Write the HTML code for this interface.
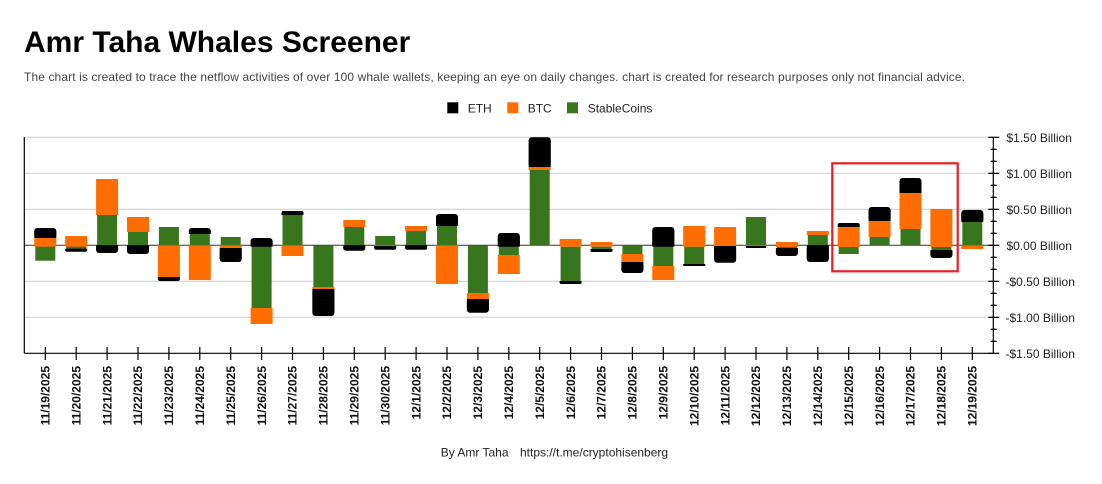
<!DOCTYPE html>
<html><head><meta charset="utf-8"><style>
html,body{margin:0;padding:0;background:#fff;}
svg{display:block;font-family:"Liberation Sans",Arial,sans-serif;}
</style></head><body>
<svg width="1102" height="484" viewBox="0 0 1102 484" xmlns="http://www.w3.org/2000/svg">
<rect width="1102" height="484" fill="#fff"/>
<text x="24" y="52" font-size="30" font-weight="bold" fill="#000">Amr Taha Whales Screener</text>
<text x="24" y="81" font-size="12" fill="#444" textLength="941" lengthAdjust="spacing">The chart is created to trace the netflow activities of over 100 whale wallets, keeping an eye on daily changes.  chart is created for research purposes only not financial advice.</text>
<!-- legend -->
<rect x="447.3" y="102.3" width="11" height="11" fill="#000"/>
<text x="467.7" y="112.7" font-size="12" fill="#222">ETH</text>
<rect x="507.3" y="102.3" width="11" height="11" fill="#ff6d00"/>
<text x="527.7" y="112.7" font-size="12" fill="#222">BTC</text>
<rect x="567" y="102.3" width="11" height="11" fill="#38761d"/>
<text x="587.7" y="112.7" font-size="12" fill="#222">StableCoins</text>
<!-- gridlines -->
<g stroke="#cccccc" stroke-width="1">
<line x1="24.3" x2="993.3" y1="137.3" y2="137.3"/>
<line x1="24.3" x2="993.3" y1="173.3" y2="173.3"/>
<line x1="24.3" x2="993.3" y1="209.3" y2="209.3"/>
<line x1="24.3" x2="993.3" y1="281.3" y2="281.3"/>
<line x1="24.3" x2="993.3" y1="317.3" y2="317.3"/>
</g>
<line x1="24.3" x2="993.3" y1="245.3" y2="245.3" stroke="#333" stroke-width="1"/>
<!-- green -->
<g fill="#38761d">
<rect x="35.3" y="245.3" width="20" height="15.4"/>
<rect x="66.2" y="245.3" width="20" height="3.4"/>
<rect x="97.1" y="215" width="20" height="30.3"/>
<rect x="128" y="232" width="20" height="13.3"/>
<rect x="158.9" y="227" width="20" height="18.3"/>
<rect x="189.8" y="234" width="20" height="11.3"/>
<rect x="220.7" y="237" width="20" height="8.3"/>
<rect x="251.6" y="246.7" width="20" height="61.3"/>
<rect x="282.5" y="215" width="20" height="30.3"/>
<rect x="313.4" y="245.3" width="20" height="41.7"/>
<rect x="344.3" y="227" width="20" height="18.3"/>
<rect x="375.2" y="236" width="20" height="9.3"/>
<rect x="406.1" y="231" width="20" height="14.3"/>
<rect x="437" y="226" width="20" height="19.3"/>
<rect x="467.9" y="245.3" width="20" height="47.7"/>
<rect x="498.8" y="246.7" width="20" height="8.3"/>
<rect x="529.7" y="170" width="20" height="75.3"/>
<rect x="560.6" y="246.7" width="20" height="34.3"/>
<rect x="591.5" y="246.7" width="20" height="2.3"/>
<rect x="622.4" y="245.3" width="20" height="8.7"/>
<rect x="653.3" y="246.7" width="20" height="19.3"/>
<rect x="684.2" y="246.7" width="20" height="17.3"/>
<rect x="746" y="217" width="20" height="28.3"/>
<rect x="776.9" y="247" width="20" height="1"/>
<rect x="807.8" y="235" width="20" height="10.3"/>
<rect x="838.7" y="247" width="20" height="7"/>
<rect x="869.6" y="237" width="20" height="8.3"/>
<rect x="900.5" y="229" width="20" height="16.3"/>
<rect x="931.4" y="247" width="20" height="3"/>
<rect x="962.3" y="222" width="20" height="23.3"/>
</g>
<!-- orange -->
<g fill="#ff6d00">
<rect x="34.3" y="238" width="22" height="8.7"/>
<rect x="65.2" y="236" width="22" height="10.7"/>
<rect x="96.1" y="179" width="22" height="36"/>
<rect x="127" y="217" width="22" height="15"/>
<rect x="157.9" y="245.3" width="22" height="31.7"/>
<rect x="188.8" y="245.3" width="22" height="34.7"/>
<rect x="219.7" y="245.3" width="22" height="2.7"/>
<rect x="250.6" y="308" width="22" height="16"/>
<rect x="281.5" y="245.3" width="22" height="10.7"/>
<rect x="312.4" y="287" width="22" height="2"/>
<rect x="343.3" y="220" width="22" height="7"/>
<rect x="374.2" y="245.3" width="22" height="1"/>
<rect x="405.1" y="226" width="22" height="5"/>
<rect x="436" y="245.3" width="22" height="38.7"/>
<rect x="466.9" y="293" width="22" height="6"/>
<rect x="497.8" y="255" width="22" height="19"/>
<rect x="528.7" y="167" width="22" height="3"/>
<rect x="559.6" y="239" width="22" height="7.7"/>
<rect x="590.5" y="242" width="22" height="4.7"/>
<rect x="621.4" y="254" width="22" height="8"/>
<rect x="652.3" y="266" width="22" height="14"/>
<rect x="683.2" y="226" width="22" height="20.7"/>
<rect x="714.1" y="227" width="22" height="19"/>
<rect x="745" y="245.3" width="22" height="1"/>
<rect x="775.9" y="242" width="22" height="5"/>
<rect x="806.8" y="231" width="22" height="4"/>
<rect x="837.7" y="227" width="22" height="20"/>
<rect x="868.6" y="221" width="22" height="16"/>
<rect x="899.5" y="193" width="22" height="36"/>
<rect x="930.4" y="209" width="22" height="38"/>
<rect x="961.3" y="245.3" width="22" height="3.7"/>
</g>
<!-- black (ETH) -->
<g fill="#000">
<rect x="34.3" y="228" width="22" height="10" rx="3"/><rect x="34.3" y="231" width="22" height="7"/>
<rect x="65.2" y="248.7" width="22" height="3" rx="1.5"/><rect x="65.2" y="248.7" width="22" height="1.5"/>
<rect x="96.1" y="245.3" width="22" height="7.7" rx="3"/><rect x="96.1" y="245.3" width="22" height="4.7"/>
<rect x="127" y="245.3" width="22" height="8.7" rx="3"/><rect x="127" y="245.3" width="22" height="5.7"/>
<rect x="157.9" y="277" width="22" height="4" rx="2"/><rect x="157.9" y="277" width="22" height="2"/>
<rect x="188.8" y="228" width="22" height="6" rx="3"/><rect x="188.8" y="231" width="22" height="3"/>
<rect x="219.7" y="248" width="22" height="14" rx="3"/><rect x="219.7" y="248" width="22" height="11"/>
<rect x="250.6" y="238" width="22" height="8.7" rx="3"/><rect x="250.6" y="241" width="22" height="5.7"/>
<rect x="281.5" y="211" width="22" height="4" rx="2"/><rect x="281.5" y="213" width="22" height="2"/>
<rect x="312.4" y="289" width="22" height="27" rx="3"/><rect x="312.4" y="289" width="22" height="24"/>
<rect x="343.3" y="245.3" width="22" height="5.4" rx="2.5"/><rect x="343.3" y="245.3" width="22" height="2.7"/>
<rect x="374.2" y="246" width="22" height="3.7" rx="1.8"/><rect x="374.2" y="246" width="22" height="1.8"/>
<rect x="405.1" y="245.3" width="22" height="4.4" rx="2"/><rect x="405.1" y="245.3" width="22" height="2.2"/>
<rect x="436" y="214" width="22" height="12" rx="3"/><rect x="436" y="217" width="22" height="9"/>
<rect x="466.9" y="299" width="22" height="13.7" rx="3"/><rect x="466.9" y="299" width="22" height="10.7"/>
<rect x="497.8" y="233" width="22" height="13.7" rx="3"/><rect x="497.8" y="236" width="22" height="10.7"/>
<rect x="528.7" y="137.3" width="22" height="29.7" rx="3"/><rect x="528.7" y="140.3" width="22" height="26.7"/>
<rect x="559.6" y="281" width="22" height="3" rx="1.5"/><rect x="559.6" y="281" width="22" height="1.5"/>
<rect x="590.5" y="249" width="22" height="3" rx="1.5"/><rect x="590.5" y="249" width="22" height="1.5"/>
<rect x="621.4" y="262" width="22" height="11" rx="3"/><rect x="621.4" y="262" width="22" height="8"/>
<rect x="652.3" y="227" width="22" height="19.7" rx="3"/><rect x="652.3" y="230" width="22" height="16.7"/>
<rect x="683.2" y="264" width="22" height="2"/>
<rect x="714.1" y="246" width="22" height="16.7" rx="3"/><rect x="714.1" y="246" width="22" height="13.7"/>
<rect x="746" y="246" width="20" height="2"/>
<rect x="775.9" y="248" width="22" height="8" rx="3"/><rect x="775.9" y="248" width="22" height="5"/>
<rect x="806.8" y="245.3" width="22" height="16.7" rx="3"/><rect x="806.8" y="245.3" width="22" height="13.7"/>
<rect x="837.7" y="223" width="22" height="4" rx="2"/><rect x="837.7" y="225" width="22" height="2"/>
<rect x="868.6" y="207" width="22" height="14" rx="3"/><rect x="868.6" y="210" width="22" height="11"/>
<rect x="899.5" y="178" width="22" height="15" rx="3"/><rect x="899.5" y="181" width="22" height="12"/>
<rect x="930.4" y="250" width="22" height="8" rx="3"/><rect x="930.4" y="250" width="22" height="5"/>
<rect x="961.3" y="210" width="22" height="12" rx="3"/><rect x="961.3" y="213" width="22" height="9"/>
</g>
<!-- axes -->
<g stroke="#000" stroke-width="1.2">
<line x1="24.3" x2="24.3" y1="137" y2="353.3"/>
<line x1="993.3" x2="993.3" y1="137" y2="353.3"/>
<line x1="24.3" x2="993.3" y1="353.3" y2="353.3"/>
</g>
<!-- right axis ticks -->
<g stroke="#000" stroke-width="1.2">
<line x1="988.3" x2="999.3" y1="137.3" y2="137.3"/>
<line x1="988.3" x2="999.3" y1="173.3" y2="173.3"/>
<line x1="988.3" x2="999.3" y1="209.3" y2="209.3"/>
<line x1="988.3" x2="999.3" y1="245.3" y2="245.3"/>
<line x1="988.3" x2="999.3" y1="281.3" y2="281.3"/>
<line x1="988.3" x2="999.3" y1="317.3" y2="317.3"/>
<line x1="988.3" x2="999.3" y1="353.3" y2="353.3"/>
<line x1="990.7" x2="996.7" y1="149.3" y2="149.3"/>
<line x1="990.7" x2="996.7" y1="161.3" y2="161.3"/>
<line x1="990.7" x2="996.7" y1="185.3" y2="185.3"/>
<line x1="990.7" x2="996.7" y1="197.3" y2="197.3"/>
<line x1="990.7" x2="996.7" y1="221.3" y2="221.3"/>
<line x1="990.7" x2="996.7" y1="233.3" y2="233.3"/>
<line x1="990.7" x2="996.7" y1="257.3" y2="257.3"/>
<line x1="990.7" x2="996.7" y1="269.3" y2="269.3"/>
<line x1="990.7" x2="996.7" y1="293.3" y2="293.3"/>
<line x1="990.7" x2="996.7" y1="305.3" y2="305.3"/>
<line x1="990.7" x2="996.7" y1="329.3" y2="329.3"/>
<line x1="990.7" x2="996.7" y1="341.3" y2="341.3"/>
</g>
<!-- x ticks -->
<g stroke="#000" stroke-width="1.2">
<line x1="45.3" x2="45.3" y1="347" y2="360"/>
<line x1="76.2" x2="76.2" y1="347" y2="360"/>
<line x1="107.1" x2="107.1" y1="347" y2="360"/>
<line x1="138" x2="138" y1="347" y2="360"/>
<line x1="168.9" x2="168.9" y1="347" y2="360"/>
<line x1="199.8" x2="199.8" y1="347" y2="360"/>
<line x1="230.7" x2="230.7" y1="347" y2="360"/>
<line x1="261.6" x2="261.6" y1="347" y2="360"/>
<line x1="292.5" x2="292.5" y1="347" y2="360"/>
<line x1="323.4" x2="323.4" y1="347" y2="360"/>
<line x1="354.3" x2="354.3" y1="347" y2="360"/>
<line x1="385.2" x2="385.2" y1="347" y2="360"/>
<line x1="416.1" x2="416.1" y1="347" y2="360"/>
<line x1="447" x2="447" y1="347" y2="360"/>
<line x1="477.9" x2="477.9" y1="347" y2="360"/>
<line x1="508.8" x2="508.8" y1="347" y2="360"/>
<line x1="539.7" x2="539.7" y1="347" y2="360"/>
<line x1="570.6" x2="570.6" y1="347" y2="360"/>
<line x1="601.5" x2="601.5" y1="347" y2="360"/>
<line x1="632.4" x2="632.4" y1="347" y2="360"/>
<line x1="663.3" x2="663.3" y1="347" y2="360"/>
<line x1="694.2" x2="694.2" y1="347" y2="360"/>
<line x1="725.1" x2="725.1" y1="347" y2="360"/>
<line x1="756" x2="756" y1="347" y2="360"/>
<line x1="786.9" x2="786.9" y1="347" y2="360"/>
<line x1="817.8" x2="817.8" y1="347" y2="360"/>
<line x1="848.7" x2="848.7" y1="347" y2="360"/>
<line x1="879.6" x2="879.6" y1="347" y2="360"/>
<line x1="910.5" x2="910.5" y1="347" y2="360"/>
<line x1="941.4" x2="941.4" y1="347" y2="360"/>
<line x1="972.3" x2="972.3" y1="347" y2="360"/>
</g>
<!-- right axis labels -->
<g font-size="12" fill="#222">
<text x="1006.5" y="141.8">$1.50 Billion</text>
<text x="1006.5" y="177.8">$1.00 Billion</text>
<text x="1006.5" y="213.8">$0.50 Billion</text>
<text x="1006.5" y="249.8">$0.00 Billion</text>
<text x="1005.5" y="285.8">-$0.50 Billion</text>
<text x="1005.5" y="321.8">-$1.00 Billion</text>
<text x="1005.5" y="357.8">-$1.50 Billion</text>
</g>
<!-- x labels -->
<g font-size="12" font-weight="bold" fill="#111" text-anchor="end">
<text transform="translate(49.5,366) rotate(-90)">11/19/2025</text>
<text transform="translate(80.4,366) rotate(-90)">11/20/2025</text>
<text transform="translate(111.3,366) rotate(-90)">11/21/2025</text>
<text transform="translate(142.2,366) rotate(-90)">11/22/2025</text>
<text transform="translate(173.1,366) rotate(-90)">11/23/2025</text>
<text transform="translate(204,366) rotate(-90)">11/24/2025</text>
<text transform="translate(234.9,366) rotate(-90)">11/25/2025</text>
<text transform="translate(265.8,366) rotate(-90)">11/26/2025</text>
<text transform="translate(296.7,366) rotate(-90)">11/27/2025</text>
<text transform="translate(327.6,366) rotate(-90)">11/28/2025</text>
<text transform="translate(358.5,366) rotate(-90)">11/29/2025</text>
<text transform="translate(389.4,366) rotate(-90)">11/30/2025</text>
<text transform="translate(420.3,366) rotate(-90)">12/1/2025</text>
<text transform="translate(451.2,366) rotate(-90)">12/2/2025</text>
<text transform="translate(482.1,366) rotate(-90)">12/3/2025</text>
<text transform="translate(513,366) rotate(-90)">12/4/2025</text>
<text transform="translate(543.9,366) rotate(-90)">12/5/2025</text>
<text transform="translate(574.8,366) rotate(-90)">12/6/2025</text>
<text transform="translate(605.7,366) rotate(-90)">12/7/2025</text>
<text transform="translate(636.6,366) rotate(-90)">12/8/2025</text>
<text transform="translate(667.5,366) rotate(-90)">12/9/2025</text>
<text transform="translate(698.4,366) rotate(-90)">12/10/2025</text>
<text transform="translate(729.3,366) rotate(-90)">12/11/2025</text>
<text transform="translate(760.2,366) rotate(-90)">12/12/2025</text>
<text transform="translate(791.1,366) rotate(-90)">12/13/2025</text>
<text transform="translate(822,366) rotate(-90)">12/14/2025</text>
<text transform="translate(852.9,366) rotate(-90)">12/15/2025</text>
<text transform="translate(883.8,366) rotate(-90)">12/16/2025</text>
<text transform="translate(914.7,366) rotate(-90)">12/17/2025</text>
<text transform="translate(945.6,366) rotate(-90)">12/18/2025</text>
<text transform="translate(976.5,366) rotate(-90)">12/19/2025</text>
</g>
<!-- highlight box -->
<rect x="832.3" y="163.3" width="125.4" height="108" fill="none" stroke="#ed1c24" stroke-width="2.2"/>
<!-- footer -->
<text x="440.7" y="456.7" font-size="12" fill="#222">By Amr Taha</text>
<text x="520" y="456.7" font-size="12" fill="#222">https://t.me/cryptohisenberg</text>
</svg>
</body></html>
